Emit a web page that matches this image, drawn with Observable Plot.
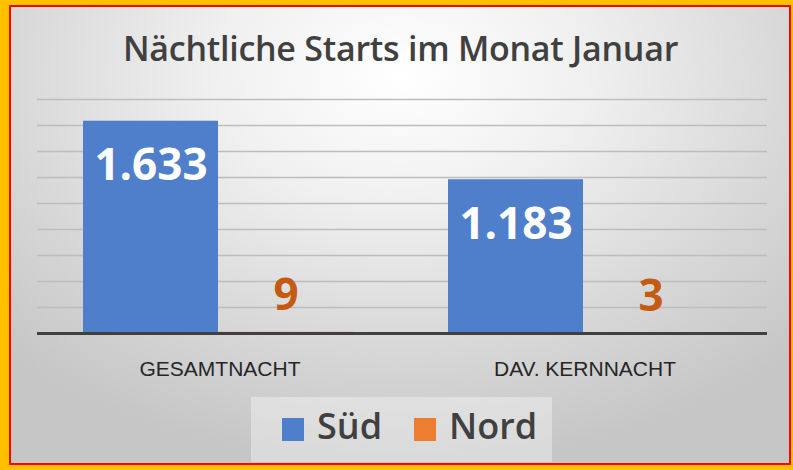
<!DOCTYPE html>
<html><head><meta charset="utf-8">
<script src="https://cdn.jsdelivr.net/npm/d3@7"></script>
<script src="https://cdn.jsdelivr.net/npm/@observablehq/plot@0.6"></script>
<style>
body{margin:0;background:#FFC000;}
#frame{position:relative;width:793px;height:470px;background:#FFC000;overflow:hidden;font-family:"Open Sans",sans-serif;}
#inner{position:absolute;left:9px;top:5px;width:782px;height:460px;box-sizing:border-box;border:2px solid #FF0000;
 background:radial-gradient(ellipse 72% 85% at 50% 15%, #ffffff 0%, #f0f0f0 33%, #d9d9d9 68%, #c6c6c6 100%);}
#title{position:absolute;left:4px;width:793px;top:31px;text-align:center;font-size:34px;line-height:35px;font-weight:600;color:#404040;white-space:nowrap;letter-spacing:-0.25px;}
#chart{position:absolute;left:0;top:80px;}
#legend{position:absolute;left:251px;top:397px;width:301px;height:65px;background:rgba(255,255,255,0.35);display:flex;align-items:center;padding-left:31px;box-sizing:border-box;}
.sw{width:22px;height:23px;margin-right:13px;flex-shrink:0;}
.lt{font-size:36px;line-height:38px;font-weight:600;color:#404040;position:relative;top:-4px;margin-right:32px;flex-shrink:0;}
</style></head>
<body>
<div id="frame">
 <div id="inner"></div>
 <div id="title">Nächtliche Starts im Monat Januar</div>
 <div id="chart"></div>
 <div id="legend"></div>
</div>
<script>
const categories = ["GESAMTNACHT", "DAV. KERNNACHT"];
const series = ["Süd", "Nord"];
const sued = [1633, 1183];
const nord = [9, 3];
const seriesColors = ["#4F7FCA", "#ED7D31"];
const labelColors = ["#FFFFFF", "#C55A11"];
const gridValues = [200, 400, 600, 800, 1000, 1200, 1400, 1600, 1800];
const valueLabels = [["1.633", "1.183"], ["9", "3"]];

const rows = [];
categories.forEach((c, i) => {
  rows.push({cat: c, series: series[0], value: sued[i], label: valueLabels[0][i]});
  rows.push({cat: c, series: series[1], value: nord[i], label: valueLabels[1][i]});
});

const chart = Plot.plot({
  width: 793,
  height: 315,
  marginLeft: 37,
  marginRight: 26,
  marginTop: 19,
  marginBottom: 62,
  style: {fontFamily: "'Liberation Sans', Arial, sans-serif", fontSize: "21px", color: "#262626", background: "transparent", overflow: "visible"},
  facet: {data: rows, x: "cat"},
  fx: {domain: categories, padding: 0, axis: "bottom", label: null, tickSize: 0, tickPadding: 28},
  x: {domain: series, paddingInner: 0, paddingOuter: 0.342, align: 0.48, axis: null},
  y: {domain: [0, 1800], axis: null},
  color: {domain: series, range: seriesColors},
  marks: [
    Plot.ruleY(gridValues, {stroke: "#bdbdbd", strokeWidth: 1.3}),
    Plot.barY(rows, {x: "series", y: "value", fill: "series"}),
    Plot.ruleY([0], {stroke: "#404040", strokeWidth: 3}),
    Plot.text(rows, {filter: d => d.series === series[0], x: "series", y: "value", text: "label", fill: labelColors[0], fontSize: 44, fontWeight: "bold", fontFamily: "'Open Sans', sans-serif", dy: 45}),
    Plot.text(rows, {filter: d => d.series === series[1], x: "series", y: "value", text: "label", fill: labelColors[1], fontSize: 44, fontWeight: "bold", fontFamily: "'Open Sans', sans-serif", dy: -36})
  ]
});
document.getElementById("chart").appendChild(chart);

const legend = document.getElementById("legend");
series.forEach((s, i) => {
  const sw = document.createElement("div");
  sw.className = "sw";
  sw.style.background = seriesColors[i];
  const t = document.createElement("span");
  t.className = "lt";
  t.textContent = s;
  legend.appendChild(sw);
  legend.appendChild(t);
});
</script>
</body></html>
